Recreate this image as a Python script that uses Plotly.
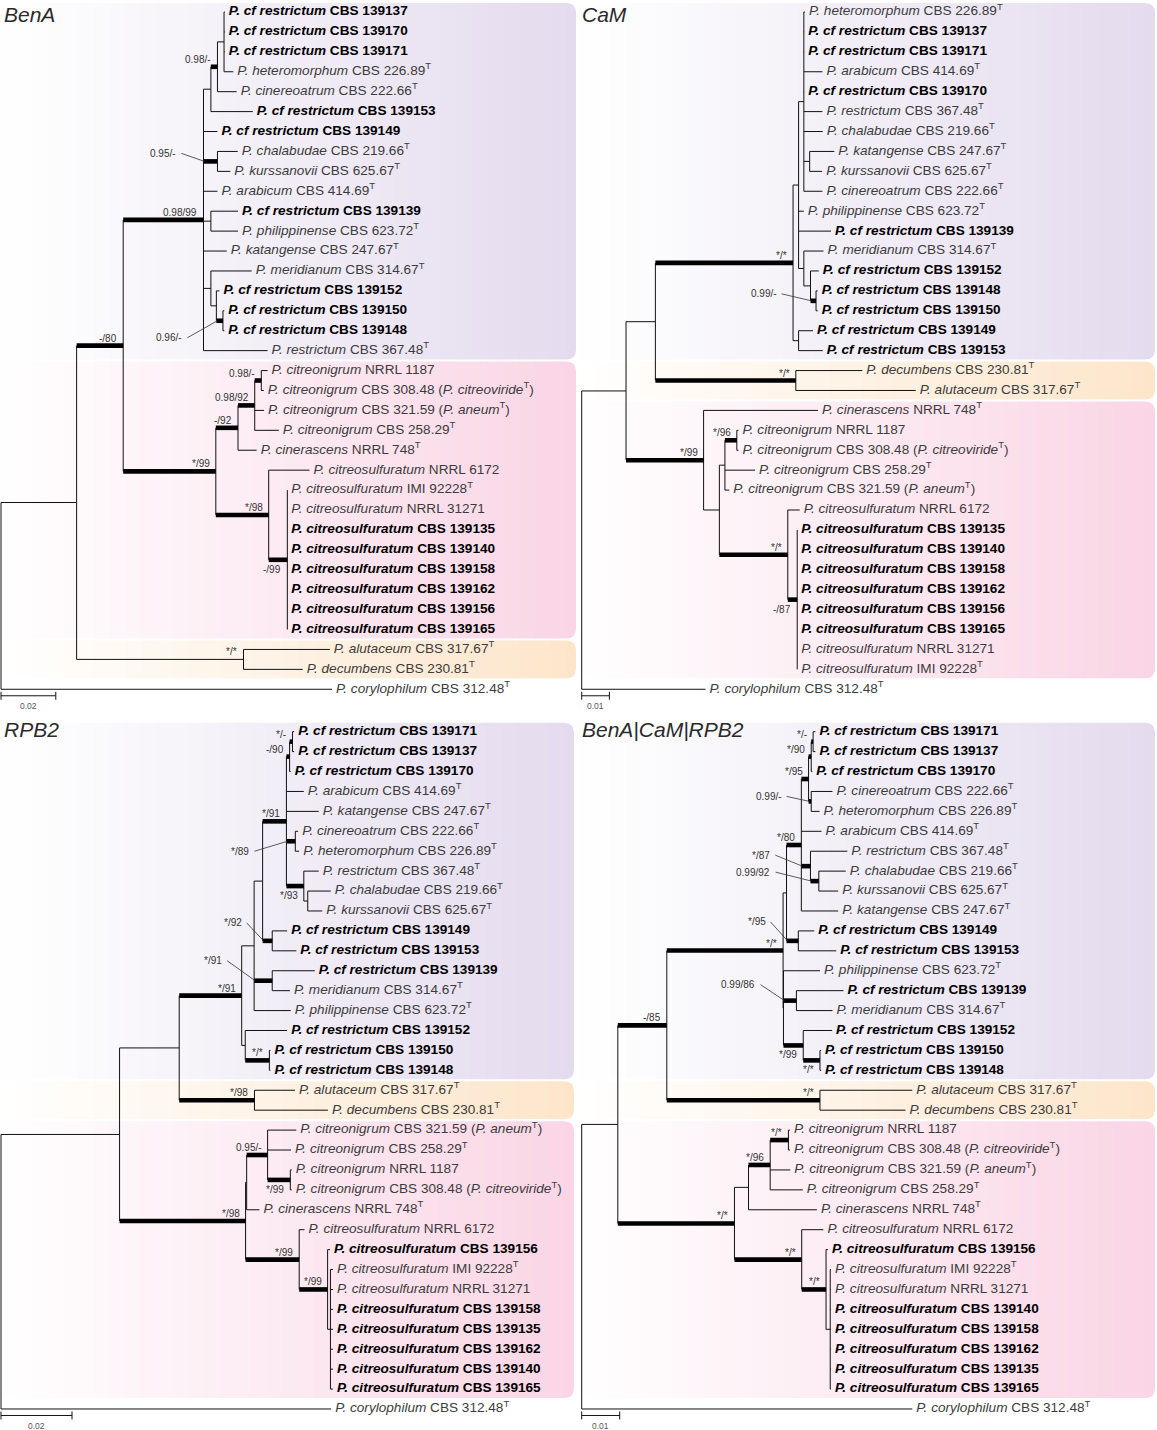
import plotly.graph_objects as go

W, H = 1157, 1430
ROW = 19.92  # px between leaf rows

# code: (species, strain, ex-type, synonym, new isolate)
STRAINS = {
    "r137": ("P. cf restrictum", "CBS 139137", False, None, True),
    "r170": ("P. cf restrictum", "CBS 139170", False, None, True),
    "r171": ("P. cf restrictum", "CBS 139171", False, None, True),
    "r153": ("P. cf restrictum", "CBS 139153", False, None, True),
    "r149": ("P. cf restrictum", "CBS 139149", False, None, True),
    "r139": ("P. cf restrictum", "CBS 139139", False, None, True),
    "r152": ("P. cf restrictum", "CBS 139152", False, None, True),
    "r150": ("P. cf restrictum", "CBS 139150", False, None, True),
    "r148": ("P. cf restrictum", "CBS 139148", False, None, True),
    "het": ("P. heteromorphum", "CBS 226.89", True, None, False),
    "cin": ("P. cinereoatrum", "CBS 222.66", True, None, False),
    "cha": ("P. chalabudae", "CBS 219.66", True, None, False),
    "kur": ("P. kurssanovii", "CBS 625.67", True, None, False),
    "ara": ("P. arabicum", "CBS 414.69", True, None, False),
    "phi": ("P. philippinense", "CBS 623.72", True, None, False),
    "kat": ("P. katangense", "CBS 247.67", True, None, False),
    "mer": ("P. meridianum", "CBS 314.67", True, None, False),
    "res": ("P. restrictum", "CBS 367.48", True, None, False),
    "cn1187": ("P. citreonigrum", "NRRL 1187", False, None, False),
    "cn308": ("P. citreonigrum", "CBS 308.48", False, "P. citreoviride", False),
    "cn321": ("P. citreonigrum", "CBS 321.59", False, "P. aneum", False),
    "cn258": ("P. citreonigrum", "CBS 258.29", True, None, False),
    "cer": ("P. cinerascens", "NRRL 748", True, None, False),
    "cs6172": ("P. citreosulfuratum", "NRRL 6172", False, None, False),
    "cs922": ("P. citreosulfuratum", "IMI 92228", True, None, False),
    "cs31271": ("P. citreosulfuratum", "NRRL 31271", False, None, False),
    "cs135": ("P. citreosulfuratum", "CBS 139135", False, None, True),
    "cs140": ("P. citreosulfuratum", "CBS 139140", False, None, True),
    "cs158": ("P. citreosulfuratum", "CBS 139158", False, None, True),
    "cs162": ("P. citreosulfuratum", "CBS 139162", False, None, True),
    "cs156": ("P. citreosulfuratum", "CBS 139156", False, None, True),
    "cs165": ("P. citreosulfuratum", "CBS 139165", False, None, True),
    "alu": ("P. alutaceum", "CBS 317.67", True, None, False),
    "dec": ("P. decumbens", "CBS 230.81", True, None, False),
    "cor": ("P. corylophilum", "CBS 312.48", True, None, False),
}

CLADES = {
    "purple": ["r137", "r170", "r171", "r153", "r149", "r139", "r152", "r150", "r148",
               "het", "cin", "cha", "kur", "ara", "phi", "kat", "mer", "res"],
    "pink": ["cn1187", "cn308", "cn321", "cn258", "cer", "cs6172", "cs922", "cs31271",
             "cs135", "cs140", "cs158", "cs162", "cs156", "cs165"],
    "orange": ["alu", "dec"],
}
CLADE_COLORS = {"purple": "#e4dbee", "pink": "#fad5e5", "orange": "#fde5ca"}

# trees (branch lengths in substitutions/site, internal labels = PP/BS support,
# "~" = support shown on a thin branch)
BENA_TREE = (
    "(((((((r137:0.0003,r170:0.0003,r171:0.0003,het:0.0034):0.0024,cin:0.0070)0.98/-:0.0024,"
    "r153:0.0153):0.0027,r149:0.0051,(cha:0.0074,kur:0.0047)0.95/-:0.0051,ara:0.0051,"
    "(r139:0.0099,phi:0.0099):0.0027,kat:0.0085,(mer:0.0149,(r152:0.0011,(r150:0.0005,"
    "r148:0.0005)0.96/-:0.0024):0.0020):0.0027,res:0.0234)0.98/99:0.0293,"
    "((((cn1187:0.0023,cn308:0.0009)0.98/-:0.0024,cn321:0.0034,cn258:0.0088)0.98/92:0.0061,"
    "cer:0.0068)-/92:0.0081,(cs6172:0.0149,(cs922:0,cs31271:0,cs135:0,cs140:0,cs158:0,"
    "cs162:0,cs156:0,cs165:0)-/99:0.0068)*/98:0.0193)*/99:0.0338)-/80:0.0170,"
    "(alu:0.0315,dec:0.0216)~*/*:0.0609):0.0276,cor:0.1208);"
)
CAM_TREE = (
    "((((((het:0.0004,r137:0.0001,r171:0.0001,ara:0.0067,r170:0.0001,res:0.0067,cha:0.0068,"
    "(kat:0.0089,kur:0.0045):0.0021,cin:0.0067):0.0019,phi:0.0019,r139:0.0117,(mer:0.0071,"
    "(r152:0.0030,(r148:0.0006,r150:0.0006)0.99/-:0.0020):0.0024):0.0019):0.0020,"
    "(r149:0.0052,r153:0.0087):0.0020)*/*:0.0497,(dec:0.0240,alu:0.0433)*/*:0.0507):0.0106,"
    "(cer:0.0413,(((cn1187:0.0006,cn308:0.0006)*/96:0.0043,cn258:0.0109,cn321:0.0016):0.0020,"
    "(cs6172:0.0043,(cs135:0,cs140:0,cs158:0,cs162:0,cs156:0,cs165:0,cs31271:0,cs922:0)"
    "-/87:0.0034)*/*:0.0247):0.0057)*/99:0.0280):0.0160,cor:0.0447);"
)
RPB2_TREE = (
    "(((((((((r171:0.0005,r137:0.0005)*/-:0.0008,r170:0.0003)-/90:0.0009,ara:0.0049,"
    "kat:0.0091,(cin:0.0008,het:0.0011)*/89:0.0025,(res:0.0042,(cha:0.0065,kur:0.0041)"
    ":0.0011)*/93:0.0049)*/91:0.0067,(r149:0.0042,r153:0.0068)*/92:0.0027):0.0024,"
    "(r139:0.0120,mer:0.0050)*/91:0.0051,phi:0.0103):0.0035,(r152:0.0118,(r150:0.0003,"
    "r148:0.0003)*/*:0.0068):0.0010)*/91:0.0176,(alu:0.0114,dec:0.0207)*/98:0.0212):0.0168,"
    "(((cn321:0.0081,cn258:0.0066,(cn1187:0.0004,cn308:0.0004)*/99:0.0064)0.95/-:0.0059,"
    "cer:0.0036):0.0003,(cs6172:0.0015,(cs156:0.0007,(cs922:0.0007,cs31271:0.0007,"
    "cs158:0.0007,cs135:0.0007,cs162:0.0007,cs140:0.0007,cs165:0.0007):0.0008)*/99:0.0080)"
    "*/99:0.0151)*/98:0.0355):0.0334,cor:0.0930);"
)
COMBINED_TREE = (
    "(((((((((r171:0.0006,r137:0.0006)*/-:0.0005,r170:0.0003)*/90:0.0007,(cin:0.0056,"
    "het:0.0022)0.99/-:0.0007)*/95:0.0019,ara:0.0053,(res:0.0097,(cha:0.0071,kur:0.0051)"
    "0.99/92:0.0022)*/87:0.0024,kat:0.0097)*/80:0.0039,(r149:0.0042,r153:0.0100)*/95:0.0031)"
    ":0.0009,(phi:0.0096,(r139:0.0124,mer:0.0095)0.99/86:0.0034,(r152:0.0076,(r150:0.0003,"
    "r148:0.0003)*/*:0.0044)*/99:0.0052):0.0001)*/*:0.0306,(alu:0.0243,dec:0.0225)*/*:0.0403)"
    "-/85:0.0129,((((cn1187:0.0004,cn308:0.0004)*/*:0.0048,cn321:0.0053,cn258:0.0086)"
    "*/96:0.0057,cer:0.0180):0.0037,(cs6172:0.0057,(cs156:0.0005,(cs922:0.0002,"
    "cs31271:0.0002,cs140:0.0002,cs158:0.0002,cs162:0.0002,cs135:0.0002,cs165:0.0002)"
    ":0.0011)*/*:0.0064)*/*:0.0177)*/*:0.0307):0.0095,cor:0.0870);"
)

# ---- layout (pixels) ----------------------------------------------------
# support-label placement: default above-left of the node; "below", or a
# leader line ("lead", dx, dy) offset from the parent end of the branch
PANELS = [
    dict(title="BenA", tree=BENA_TREE, scale=0.02, x0=0, x1=578, y0=0, y1=715,
         root_px=1, ppu=2740, row0=12, box_right=576,
         place={"cha-kur": ("lead", -26, -8), "r150-r148": ("lead", -33, 17),
                "cs922-cs165": "below"}),
    dict(title="CaM", tree=CAM_TREE, scale=0.01, x0=578, x1=1157, y0=0, y1=715,
         root_px=581.7, ppu=2770, row0=12, box_right=1155,
         place={"r148-r150": ("lead", -33, -7), "cs135-cs922": "below"}),
    dict(title="RPB2", tree=RPB2_TREE, scale=0.02, x0=0, x1=578, y0=715, y1=1430,
         root_px=1, ppu=3550, row0=731.7, box_right=574,
         place={"cin-het": ("lead", -36, 10), "res-kur": "below",
                "r149-r153": ("lead", -20, -18), "r139-mer": ("lead", -31, -20),
                "cn1187-cn308": "below"}),
    dict(title="BenA|CaM|RPB2", tree=COMBINED_TREE, scale=0.01, x0=578, x1=1157,
         y0=715, y1=1430, root_px=581.7, ppu=3800, row0=731.7, box_right=1155,
         place={"cin-het": ("lead", -26, -5), "res-kur": ("lead", -30, -11),
                "cha-kur": ("lead", -39, -9), "r149-r153": ("lead", -20, -19),
                "r139-mer": ("lead", -27, -16), "r152-r148": "below",
                "r150-r148": "below"}),
]

FONT = "Liberation Sans"


def parse_newick(s):
    pos = 0

    def node():
        nonlocal pos
        n = {"children": [], "name": "", "length": 0.0}
        if s[pos] == "(":
            pos += 1
            while True:
                n["children"].append(node())
                if s[pos] == ",":
                    pos += 1
                    continue
                assert s[pos] == ")", s[pos:pos + 20]
                pos += 1
                break
        start = pos
        while s[pos] not in ":,);":
            pos += 1
        n["name"] = s[start:pos]
        if s[pos] == ":":
            pos += 1
            start = pos
            while s[pos] not in ",);":
                pos += 1
            n["length"] = float(s[start:pos])
        return n

    root = node()
    assert s[pos] == ";"
    return root


def place(n, parent, px, leaves, nodes):
    n["parent"] = parent
    n["x"] = px + n["length"]
    nodes.append(n)
    if n["children"]:
        for c in n["children"]:
            place(c, n, n["x"], leaves, nodes)
        n["y"] = (n["children"][0]["y"] + n["children"][-1]["y"]) / 2
        n["key"] = n["children"][0]["key"].split("-")[0] + "-" + n["children"][-1]["key"].split("-")[-1]
    else:
        n["y"] = len(leaves)
        n["key"] = n["name"]
        leaves.append(n)


def leaf_text(code):
    sp, strain, typ, syn, new = STRAINS[code]
    t = f"<i>{sp}</i> {strain}"
    if typ:
        t += "<sup>T</sup>"
    if syn:
        t += f" (<i>{syn}</i><sup>T</sup>)"
    return f"<b>{t}</b>" if new else t


def mix(hexcol, t):
    rgb = [int(hexcol[i:i + 2], 16) for i in (1, 3, 5)]
    return "rgb(%d,%d,%d)" % tuple(round(255 + (c - 255) * t) for c in rgb)


fig = go.Figure()
shapes, annotations = [], []

for i, p in enumerate(PANELS):
    sfx = "" if i == 0 else str(i + 1)
    xa, ya = "x" + sfx, "y" + sfx
    ppu = p["ppu"]

    def X(px, p=p):
        return (px - p["root_px"]) / p["ppu"]

    def R(py, p=p):
        return (py - p["row0"]) / ROW

    root = parse_newick(p["tree"])
    leaves, nodes = [], []
    place(root, None, 0.0, leaves, nodes)
    assert len(leaves) == 35
    row_of = {lf["name"]: lf["y"] for lf in leaves}

    fig.update_layout({
        "xaxis" + sfx: dict(domain=[p["x0"] / W, p["x1"] / W], range=[X(p["x0"]), X(p["x1"])],
                            visible=False, fixedrange=True, anchor=ya),
        "yaxis" + sfx: dict(domain=[1 - p["y1"] / H, 1 - p["y0"] / H],
                            range=[R(p["y1"]), R(p["y0"])],
                            visible=False, fixedrange=True, anchor=xa),
    })

    # clade boxes with a left-to-right gradient and rounded right corners
    for clade, codes in CLADES.items():
        rows = [row_of[c] for c in codes]
        top, bot = min(rows) - 0.5 + 1 / ROW, max(rows) + 0.5 - 1 / ROW
        left_px, right_px, rad = p["x0"], p["box_right"], 10
        n = 36
        span = right_px - rad - left_px
        for k in range(n):
            a = left_px + span * k / n
            b = left_px + span * (k + 1) / n + 0.6
            t = ((a + b) / 2 - left_px) / (right_px - left_px)
            shapes.append(dict(type="rect", xref=xa, yref=ya, x0=X(a), x1=X(b), y0=top, y1=bot,
                               fillcolor=mix(CLADE_COLORS[clade], t), line=dict(width=0),
                               layer="below"))
        xa0, xr = X(right_px - rad), X(right_px)
        ry = rad / ROW
        path = (f"M {xa0},{top} Q {xr},{top} {xr},{top + ry} L {xr},{bot - ry} "
                f"Q {xr},{bot} {xa0},{bot} Z")
        shapes.append(dict(type="path", xref=xa, yref=ya, path=path,
                           fillcolor=mix(CLADE_COLORS[clade], 1.0), line=dict(width=0),
                           layer="below"))

    thin_x, thin_y, thick_x, thick_y, lead_x, lead_y = [], [], [], [], [], []
    for n in nodes:
        par = n["parent"]
        if par is not None:
            thick = bool(n["children"]) and n["name"] != "" and not n["name"].startswith("~")
            tx, ty = (thick_x, thick_y) if thick else (thin_x, thin_y)
            tx += [par["x"], n["x"], None]
            ty += [n["y"], n["y"], None]
        if n["children"]:
            thin_x += [n["x"], n["x"], None]
            thin_y += [n["children"][0]["y"], n["children"][-1]["y"], None]
            label = n["name"].lstrip("~")
            if not label:
                continue
            how = p["place"].get(n["key"], "above")
            ann = dict(xref=xa, yref=ya, text=label, showarrow=False, xanchor="right",
                       yanchor="middle", font=dict(family=FONT, size=10, color="#333"))
            if how == "above":
                ann.update(x=n["x"], y=n["y"], xshift=-4, yshift=7.5)
            elif how == "below":
                ann.update(x=n["x"], y=n["y"], xshift=-4, yshift=-9.5)
            else:
                _, dx, dy = how
                tx0 = par["x"] + 1 / ppu
                ann.update(x=tx0, y=n["y"], xshift=dx, yshift=-dy)
                lead_x += [tx0 + (dx + 3) / ppu, tx0, None]
                lead_y += [n["y"] + dy / ROW, n["y"], None]
            annotations.append(ann)

    fig.add_trace(go.Scatter(x=thin_x, y=thin_y, xaxis=xa, yaxis=ya, mode="lines",
                             line=dict(color="#111", width=1), hoverinfo="skip"))
    fig.add_trace(go.Scatter(x=thick_x, y=thick_y, xaxis=xa, yaxis=ya, mode="lines",
                             line=dict(color="#000", width=4.6), hoverinfo="skip"))
    fig.add_trace(go.Scatter(x=lead_x, y=lead_y, xaxis=xa, yaxis=ya, mode="lines",
                             line=dict(color="#333", width=0.8), hoverinfo="skip"))

    # leaf labels
    fig.add_trace(go.Scatter(
        x=[lf["x"] + 4 / ppu for lf in leaves], y=[lf["y"] for lf in leaves],
        xaxis=xa, yaxis=ya, mode="text", text=[leaf_text(lf["name"]) for lf in leaves],
        textposition="middle right", hoverinfo="skip",
        textfont=dict(family=FONT, size=13.6,
                      color=["#000" if STRAINS[lf["name"]][4] else "#3c3c3c" for lf in leaves]),
    ))

    # scale bar
    yb = len(leaves) - 1 + 6.5 / ROW
    tk = 4 / ROW
    sb = p["scale"]
    fig.add_trace(go.Scatter(x=[0, sb, None, 0, 0, None, sb, sb], y=[yb, yb, None, yb - tk, yb + tk, None, yb - tk, yb + tk],
                             xaxis=xa, yaxis=ya, mode="lines", line=dict(color="#111", width=1),
                             hoverinfo="skip"))
    annotations.append(dict(xref=xa, yref=ya, x=sb / 2, y=yb + 10.5 / ROW, text=f"{sb:g}",
                            showarrow=False, font=dict(family=FONT, size=8.5, color="#555")))

    # panel title
    annotations.append(dict(xref="paper", yref="paper", x=(p["x0"] + 1.5) / W, y=1 - (p["y0"] + 0.5) / H,
                            xanchor="left", yanchor="top", showarrow=False,
                            text=f"<i>{p['title']}</i>",
                            font=dict(family=FONT, size=21, color="#2a2a2a")))

fig.update_layout(width=W, height=H, margin=dict(l=0, r=0, t=0, b=0), showlegend=False,
                  plot_bgcolor="white", paper_bgcolor="white",
                  shapes=shapes, annotations=annotations)

# the page body has a default 8px margin; remove it so the figure fills the window
fig.write_html("out.html", config={"displayModeBar": False},
               post_script="document.body.style.margin='0';")
